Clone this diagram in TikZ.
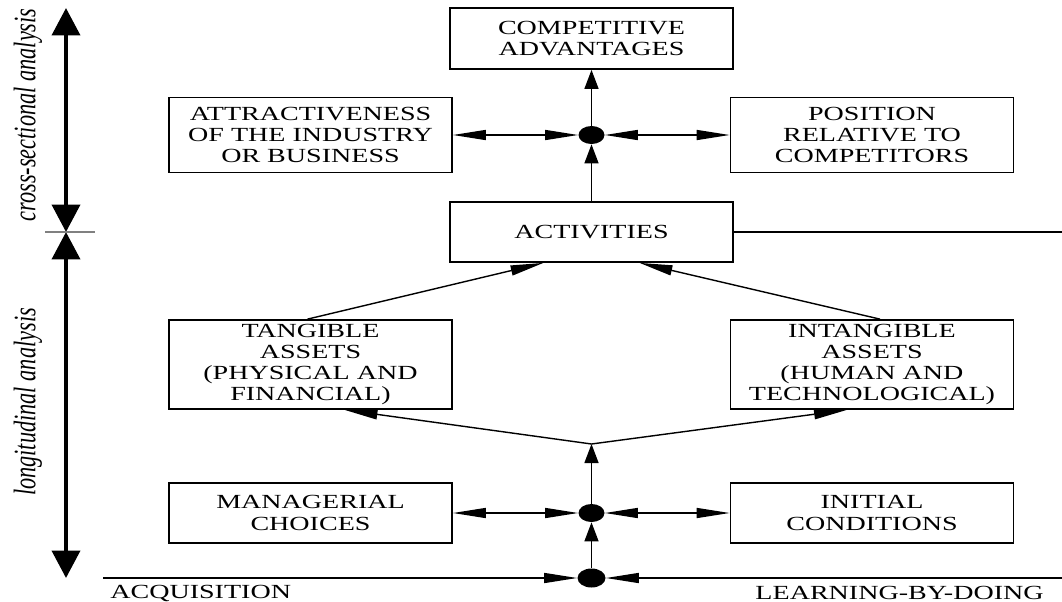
\documentclass[tikz,border=0pt]{standalone}
\usepackage{fontspec}
\setmainfont{Liberation Serif}[FakeStretch=1.4]
\newfontfamily\sidefont{Liberation Serif}
\usetikzlibrary{arrows.meta,shapes.geometric,calc}

\tikzset{
  ht/.tip={Triangle[length=0.66cm,width=0.2cm]},
  vt/.tip={Triangle[length=0.38cm,width=0.28cm]},
  bt/.tip={Triangle[length=0.55cm,width=0.56cm]}
}

\begin{document}
\begin{tikzpicture}[x=0.02cm,y=-0.02cm,
  box/.style={draw,line width=1pt,minimum width=5.66cm,align=center,inner sep=0pt,font=\fontsize{11.4}{12}\selectfont},
  dot/.style={ellipse,fill,minimum width=0.52cm,minimum height=0.36cm,inner sep=0pt},
  conn/.style={line width=0.8pt},
  label/.style={inner sep=0pt,font=\fontsize{11.4}{12}\selectfont},
  side/.style={rotate=90,inner sep=0pt,font=\fontsize{12.7}{14}\sidefont\itshape}]

\useasboundingbox (0,0) rectangle (1062,602);

\node[box,minimum height=1.22cm] (comp) at (591.5,38.5) {COMPETITIVE\\ADVANTAGES};
\node[box,minimum height=1.5cm] (attr) at (310.5,135) {ATTRACTIVENESS\\OF THE INDUSTRY\\OR BUSINESS};
\node[box,minimum height=1.5cm] (pos) at (872,135) {POSITION\\RELATIVE TO\\COMPETITORS};
\node[box,minimum height=1.2cm] (act) at (591.5,232) {ACTIVITIES};
\node[box,minimum height=1.78cm] (tang) at (310.5,364.5) {TANGIBLE\\ASSETS\\(PHYSICAL AND\\FINANCIAL)};
\node[box,minimum height=1.78cm] (intang) at (872,364.5) {INTANGIBLE\\ASSETS\\(HUMAN AND\\TECHNOLOGICAL)};
\node[box,minimum height=1.2cm] (man) at (310.5,513) {MANAGERIAL\\CHOICES};
\node[box,minimum height=1.2cm] (init) at (872,513) {INITIAL\\CONDITIONS};

\node[dot] (updot) at (591.5,135) {};
\node[dot] (middot) at (591.5,513) {};
\node[dot,minimum width=0.56cm,minimum height=0.38cm] (botdot) at (591.5,578) {};

\coordinate (fork) at (591.5,444);
\coordinate (acq) at (103,578);
\coordinate (lbd) at (1062,578);
\coordinate (actend) at (1062,232);

\node[label,anchor=west] (acqtext) at (110,593) {ACQUISITION};
\node[label,anchor=east] (lbdtext) at (1044,593) {LEARNING-BY-DOING};

\node[side] (crosstext) at (28,115) {\scalebox{1}[1.4]{cross-sectional analysis}};
\node[side] (longtext) at (28,402) {\scalebox{1}[1.4]{longitudinal analysis}};

\coordinate (ctop) at (66,8);
\coordinate (cmid) at (66,232);
\coordinate (lbot) at (66,578);
\coordinate (tickl) at (45,232);
\coordinate (tickr) at (95,232);

\draw[line width=2.3pt,bt-bt] (ctop) -- (cmid);
\draw[line width=2.3pt,bt-bt] (cmid) -- (lbot);
\draw[conn,gray] (tickl) -- (tickr);

\draw[conn,-vt] (act) -- (updot);
\draw[conn,-vt] (updot) -- (comp);
\draw[conn,ht-ht] (attr) -- (updot);
\draw[conn,ht-ht] (updot) -- (pos);
\draw[conn] (act.east) -- (actend);

\draw[conn,-ht] ($(tang.north)+(-3,0)$) -- ($(act.south)+(-48,0)$);
\draw[conn,-ht] ($(intang.north)+(8,0)$) -- ($(act.south)+(48,0)$);

\draw[conn,-ht] (fork) -- ($(tang.south)+(34,0)$);
\draw[conn,-ht] (fork) -- ($(intang.south)+(-25,0)$);
\draw[conn,-vt] (middot) -- (fork);
\draw[conn,-vt] (botdot) -- (middot);
\draw[conn,ht-ht] (man) -- (middot);
\draw[conn,ht-ht] (middot) -- (init);
\draw[conn,-ht] (acq) -- (botdot);
\draw[conn,-ht] (lbd) -- (botdot);
\end{tikzpicture}
\end{document}
